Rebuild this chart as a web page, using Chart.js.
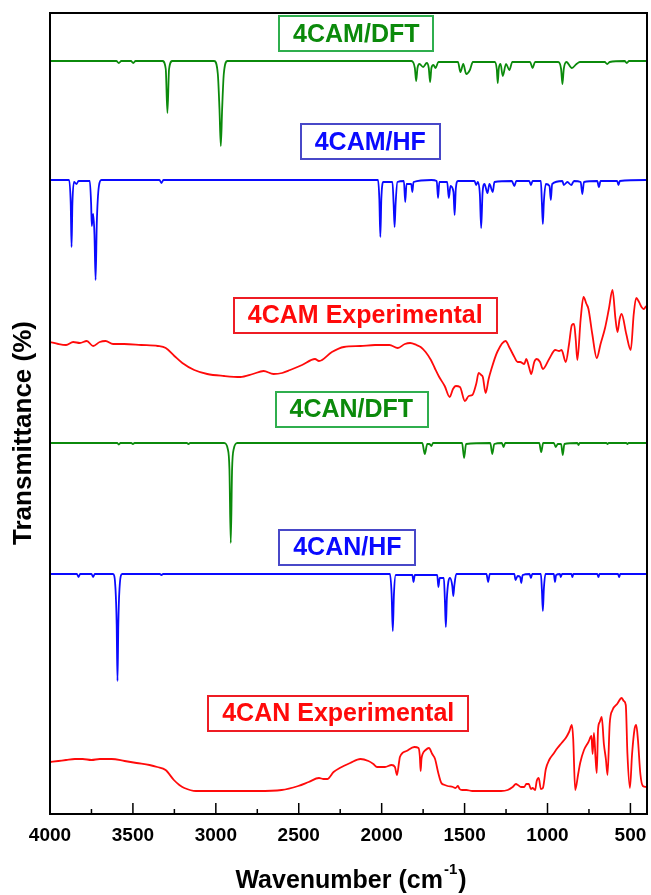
<!DOCTYPE html>
<html>
<head>
<meta charset="utf-8">
<script src="https://cdn.jsdelivr.net/npm/chart.js@4.4.1/dist/chart.umd.min.js"></script>
<style>
  html, body { margin: 0; padding: 0; background: #fff; }
</style>
</head>
<body>
<canvas id="chartIR" width="651" height="895"></canvas>
<script>
// x ticks (wavenumber, cm-1)
var xTicks = [4000, 3500, 3000, 2500, 2000, 1500, 1000, 500];
var xMinor = [3750, 3250, 2750, 2250, 1750, 1250, 750];

// 4CAM / DFT
var camDftWn = [4000, 3600, 3585, 3570, 3512, 3498, 3484, 3322, 3302, 3292, 3282, 3262, 3010, 2988, 2978, 2970, 2962, 2952, 2930,
  1820, 1800, 1792, 1784, 1772, 1750, 1728, 1716, 1708, 1700, 1688, 1675, 1658, 1540, 1525, 1508, 1490, 1468, 1450,
  1318, 1306, 1300, 1294, 1283, 1270, 1250, 1230, 1212, 1105, 1090, 1075, 935, 918, 910, 902, 886, 853, 825, 805,
  655, 640, 625, 535, 522, 508, 400];
var camDftT = [753, 753, 751, 753, 753, 751, 753, 753, 745, 701, 745, 753, 753, 740, 705, 668, 705, 740, 753,
  753, 746, 733, 746, 750, 747, 751, 746, 732, 746, 749, 746, 752, 752, 742, 750, 740, 744, 752,
  752, 745, 731, 745, 750, 738, 750, 744, 752, 752, 746, 752, 752, 745, 730, 745, 752, 746, 750, 752,
  752, 750, 752, 753, 751, 753, 753];

// 4CAM / HF
var camHfWn = [4000, 3885, 3875, 3870, 3865, 3855, 3840, 3828, 3760, 3752, 3748, 3740, 3732, 3725, 3718, 3705, 3690, 3340, 3328, 3316,
  2022, 2014, 2008, 2002, 1990, 1935, 1928, 1922, 1916, 1905, 1866, 1858, 1850, 1822, 1815, 1808, 1700, 1668, 1660, 1652,
  1605, 1595, 1585, 1567, 1560, 1553, 1540, 1440, 1430, 1420, 1408, 1400, 1392, 1380, 1362, 1350, 1330, 1320,
  1215, 1200, 1188, 1110, 1100, 1090, 1040, 1034, 1028, 1022, 1010, 988, 980, 972, 910, 902, 880, 857, 840,
  800, 790, 780, 700, 690, 680, 580, 572, 564, 400];
var camHfT = [634, 634, 610, 567, 610, 632, 630, 633, 633, 610, 588, 600, 580, 534, 590, 628, 634, 634, 631, 634,
  634, 615, 577, 615, 632, 632, 610, 587, 610, 632, 633, 612, 630, 630, 622, 632, 634, 633, 616, 632,
  632, 616, 628, 622, 599, 625, 633, 633, 629, 632, 620, 586, 620, 630, 621, 630, 622, 632,
  633, 628, 633, 633, 629, 633, 633, 612, 590, 612, 630, 628, 614, 630, 633, 629, 632, 629, 633,
  632, 620, 632, 633, 627, 633, 633, 629, 633, 634];

// 4CAM experimental
var camExpWn = [4000, 3950, 3903, 3860, 3820, 3778, 3740, 3700, 3665, 3620, 3553, 3450, 3350, 3302, 3250, 3202, 3130, 3052, 2950, 2852,
  2777, 2712, 2652, 2600, 2552, 2480, 2402, 2378, 2300, 2228, 2128, 2040, 1953, 1903, 1860, 1828, 1790, 1765, 1735, 1703,
  1680, 1653, 1620, 1590, 1570, 1553, 1528, 1498, 1475, 1453, 1430, 1415, 1400, 1390, 1373, 1355, 1340, 1303, 1253, 1228,
  1203, 1180, 1165, 1140, 1128, 1110, 1098, 1080, 1065, 1045, 1028, 990, 953, 930, 915, 890, 870, 853, 840, 830,
  820, 800, 783, 765, 753, 730, 703, 680, 653, 630, 608, 590, 578, 565, 553, 525, 498, 480, 465, 448, 433, 420, 405];
var camExpT = [472, 470, 469, 472, 471, 473, 468, 472, 473, 470, 470, 469, 468, 466, 458, 451, 444, 440, 438, 437,
  440, 443, 440, 441, 444, 449, 455, 453, 462, 467, 468, 469, 469, 466, 470, 471, 469, 467, 462, 454,
  446, 437, 428, 417, 425, 428, 427, 413, 418, 419, 430, 441, 439, 437, 421, 435, 444, 462, 473, 466,
  458, 452, 452, 450, 455, 446, 440, 452, 455, 452, 445, 455, 464, 463, 464, 452, 470, 489, 490, 475,
  454, 495, 517, 510, 505, 480, 456, 470, 486, 505, 524, 495, 482, 495, 500, 480, 464, 500, 516, 512, 507, 505, 508];

// 4CAN / DFT
var canDftWn = [4000, 3595, 3585, 3575, 3510, 3500, 3490, 3175, 3165, 3155, 2950, 2928, 2918, 2910, 2902, 2892, 2870,
  1755, 1740, 1725, 1712, 1700, 1690, 1515, 1503, 1491, 1345, 1333, 1321, 1275, 1265, 1255, 1050, 1038, 1026,
  962, 950, 938, 918, 908, 898, 820, 813, 806, 645, 638, 631, 525, 518, 511, 400];
var canDftT = [371, 371, 369.5, 371, 371, 370, 371, 371, 370, 371, 371, 365, 345, 271, 345, 365, 371,
  371, 360, 370, 370, 368, 371, 371, 356, 370, 371, 360, 370, 371, 367, 371, 371, 362, 371,
  371, 367, 370, 370, 359, 370, 371, 369, 371, 371, 370, 371, 371, 370, 371, 371];

// 4CAN / HF
var canHfWn = [4000, 3838, 3828, 3818, 3750, 3740, 3730, 3620, 3605, 3598, 3593, 3588, 3581, 3565, 3338, 3328, 3318,
  1950, 1940, 1933, 1926, 1915, 1815, 1808, 1800, 1665, 1658, 1650, 1625, 1619, 1613, 1607, 1598, 1588, 1574, 1568, 1562, 1550,
  1368, 1358, 1348, 1200, 1193, 1180, 1165, 1158, 1150, 1108, 1100, 1092, 1040, 1034, 1028, 1022, 1012,
  962, 955, 948, 925, 920, 912, 856, 850, 844, 700, 693, 686, 575, 568, 561, 400];
var canHfT = [240, 240, 237, 240, 240, 237, 240, 240, 225, 190, 133, 190, 225, 240, 240, 239, 240,
  240, 220, 183, 220, 239, 239, 232, 239, 239, 227, 236, 236, 215, 187, 215, 232, 236, 228, 218, 228, 240,
  240, 232, 240, 240, 234, 238, 237, 231, 239, 240, 236, 240, 240, 225, 203, 225, 240,
  240, 232, 239, 240, 237, 240, 240, 237, 240, 240, 237, 240, 240, 237, 240, 240];

// 4CAN experimental
var canExpWn = [4000, 3950, 3903, 3850, 3803, 3750, 3700, 3628, 3550, 3478, 3400, 3353, 3303, 3253, 3220, 3190, 3120, 3053, 2900, 2750,
  2603, 2503, 2440, 2378, 2350, 2328, 2290, 2253, 2190, 2128, 2080, 2050, 2028, 1980, 1940, 1920, 1908, 1895, 1890, 1850,
  1803, 1778, 1770, 1765, 1760, 1753, 1735, 1715, 1695, 1678, 1660, 1640, 1620, 1603, 1570, 1555, 1540, 1530, 1515, 1490,
  1453, 1350, 1280, 1240, 1210, 1190, 1178, 1160, 1140, 1128, 1113, 1100, 1090, 1075, 1065, 1053, 1040, 1028, 1010, 990,
  965, 940, 915, 890, 870, 853, 845, 833, 815, 803, 780, 753, 735, 728, 720, 710, 703, 695, 685, 673,
  660, 648, 638, 625, 608, 580, 553, 540, 528, 518, 503, 490, 475, 465, 455, 440, 425, 405];
var canExpT = [52, 53, 54, 55, 55, 54, 55, 55, 53, 51, 49, 47, 44, 34, 29, 26, 23, 23, 23, 23,
  24, 28, 32, 36, 35, 35, 42, 46, 51, 55, 53, 50, 47, 47, 49, 47, 39, 52, 57, 63,
  67, 66, 58, 43, 55, 60, 64, 66, 60, 55, 42, 31, 29, 28, 27, 26, 28, 25, 24, 24,
  23, 23, 23, 24, 27, 30, 29, 27, 27, 30, 30, 25, 26, 24, 33, 36, 25, 26, 45, 54,
  60, 66, 71, 76, 82, 89, 75, 24, 40, 51, 64, 72, 78, 60, 81, 55, 41, 85, 92, 97,
  70, 55, 39, 90, 104, 110, 116, 113, 109, 60, 26, 60, 85, 89, 75, 40, 28, 27];

// label boxes
var labelTexts = ['4CAM/DFT', '4CAM/HF', '4CAM Experimental', '4CAN/DFT', '4CAN/HF', '4CAN Experimental'];
var labelWn = [2153, 2069, 2099, 2183, 2207, 2262];
var labelT = [780, 672, 499, 405, 267, 101];

var GREEN = '#0b8a0b', BLUE = '#0a0aff', RED = '#ff0a0a';
var labelColors = [GREEN, BLUE, RED, GREEN, BLUE, RED];
var boxColors = ['#2fae4e', '#4848c8', '#ee1c24', '#2fae4e', '#4848c8', '#ee1c24'];
var FONT = '"Liberation Sans", Arial, sans-serif';

function pts(wn, t) {
  var out = [];
  for (var i = 0; i < wn.length; i++) out.push({x: wn[i], y: t[i]});
  return out;
}

function line(label, wn, t, color) {
  return {
    label: label,
    data: pts(wn, t),
    borderColor: color,
    borderWidth: 1.8,
    pointRadius: 0,
    fill: false,
    cubicInterpolationMode: 'monotone'
  };
}

// frame, inward ticks, label boxes and axis titles
var decor = {
  id: 'decor',
  afterDraw: function(chart) {
    var c = chart.ctx, a = chart.chartArea;
    var xs = chart.scales.x, ys = chart.scales.y;
    c.save();
    c.strokeStyle = '#000';
    c.lineWidth = 2;
    c.strokeRect(a.left, a.top, a.right - a.left, a.bottom - a.top);
    c.lineWidth = 1.5;
    c.beginPath();
    xTicks.forEach(function(v) {
      var px = xs.getPixelForValue(v);
      c.moveTo(px, a.bottom); c.lineTo(px, a.bottom - 11);
    });
    xMinor.forEach(function(v) {
      var px = xs.getPixelForValue(v);
      c.moveTo(px, a.bottom); c.lineTo(px, a.bottom - 5);
    });
    c.stroke();

    c.font = 'bold 25px ' + FONT;
    c.textAlign = 'center';
    c.textBaseline = 'middle';
    for (var i = 0; i < labelTexts.length; i++) {
      var cx = xs.getPixelForValue(labelWn[i]);
      var cy = ys.getPixelForValue(labelT[i]);
      var w = c.measureText(labelTexts[i]).width + 28;
      c.strokeStyle = boxColors[i];
      c.lineWidth = 2;
      c.strokeRect(Math.round(cx - w / 2), Math.round(cy - 17.5), Math.round(w), 35);
      c.fillStyle = labelColors[i];
      c.fillText(labelTexts[i], cx, cy + 1);
    }

    // y title
    c.fillStyle = '#000';
    c.font = 'bold 26px ' + FONT;
    c.save();
    c.translate(24, 433);
    c.rotate(-Math.PI / 2);
    c.fillText('Transmittance (%)', 0, 0);
    c.restore();

    // x title with superscript
    var main = 'Wavenumber (cm', sup = '-1', end = ')';
    c.font = 'bold 25px ' + FONT;
    var w1 = c.measureText(main).width, w3 = c.measureText(end).width;
    c.font = 'bold 15px ' + FONT;
    var w2 = c.measureText(sup).width;
    var x0 = 350 - (w1 + w2 + w3) / 2;
    c.textAlign = 'left';
    c.textBaseline = 'alphabetic';
    c.font = 'bold 25px ' + FONT;
    c.fillText(main, x0, 888);
    c.font = 'bold 15px ' + FONT;
    c.fillText(sup, x0 + w1 + 1, 874);
    c.font = 'bold 25px ' + FONT;
    c.fillText(end, x0 + w1 + w2 + 2, 888);
    c.restore();
  }
};

var ctx = document.getElementById('chartIR');
var chartIR = new Chart(ctx, {
  type: 'line',
  data: {
    datasets: [
      line('4CAM/DFT', camDftWn, camDftT, GREEN),
      line('4CAM/HF', camHfWn, camHfT, BLUE),
      line('4CAM Experimental', camExpWn, camExpT, RED),
      line('4CAN/DFT', canDftWn, canDftT, GREEN),
      line('4CAN/HF', canHfWn, canHfT, BLUE),
      line('4CAN Experimental', canExpWn, canExpT, RED)
    ]
  },
  options: {
    responsive: false,
    animation: false,
    layout: { padding: { left: 0, right: 4, top: 13, bottom: 0 } },
    plugins: { legend: { display: false }, tooltip: { enabled: false } },
    scales: {
      x: {
        type: 'linear',
        reverse: true,
        min: 400,
        max: 4000,
        grid: { display: false, drawTicks: false },
        border: { display: false },
        afterBuildTicks: function(s) { s.ticks = xTicks.map(function(v) { return {value: v}; }); },
        afterFit: function(s) { s.height = 81; s.paddingLeft = 0; s.paddingRight = 0; },
        ticks: {
          autoSkip: false,
          maxRotation: 0,
          padding: 10,
          color: '#000',
          font: { family: FONT, size: 19, weight: 'bold' },
          callback: function(v) { return String(v); }
        }
      },
      y: {
        min: 0,
        max: 801,
        grid: { display: false },
        border: { display: false },
        ticks: { display: false },
        afterFit: function(s) { s.width = 50; }
      }
    }
  },
  plugins: [decor]
});
</script>
</body>
</html>
